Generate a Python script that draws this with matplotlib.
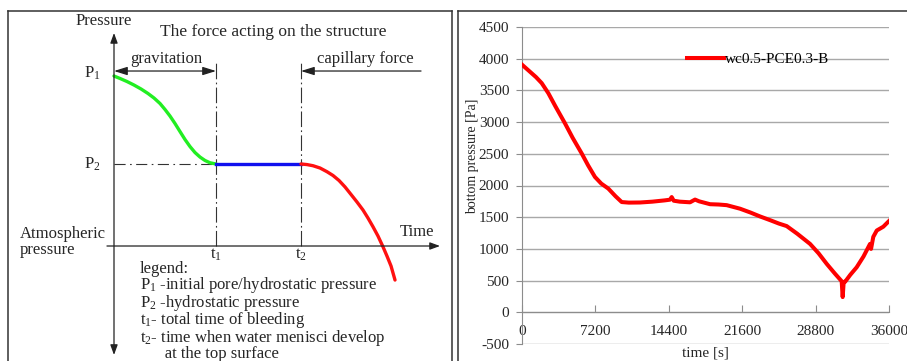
import matplotlib
matplotlib.use('Agg')
import matplotlib.pyplot as plt

plt.rcParams['font.family'] = ['Liberation Serif', 'DejaVu Serif']
plt.rcParams['mathtext.fontset'] = 'custom'
plt.rcParams['mathtext.rm'] = 'Liberation Serif'
plt.rcParams['mathtext.it'] = 'Liberation Serif:italic'
plt.rcParams['axes.unicode_minus'] = False

# ---- left: schematic (time in units of t1, pressure in units of P2) ----
t1 = 1.0
t2 = 1.833
P1 = 2.073
P2 = 1.0
grav_t = [0.0, 0.059, 0.127, 0.196, 0.265, 0.333, 0.392, 0.451, 0.500, 0.549,
          0.598, 0.647, 0.696, 0.745, 0.794, 0.843, 0.892, 0.941, 1.0]
grav_p = [2.073, 2.043, 2.006, 1.963, 1.915, 1.860, 1.805, 1.738, 1.665, 1.585,
          1.494, 1.396, 1.299, 1.213, 1.140, 1.085, 1.043, 1.015, 1.0]
hold_t = [t1, t2]
hold_p = [P2, P2]
cap_t = [1.833, 1.892, 1.951, 2.020, 2.088, 2.147, 2.206, 2.265, 2.324, 2.382,
         2.441, 2.490, 2.539, 2.588, 2.637, 2.676, 2.716, 2.755]
cap_p = [1.0, 0.993, 0.979, 0.951, 0.906, 0.860, 0.799, 0.720, 0.628, 0.537,
         0.439, 0.341, 0.235, 0.122, -0.009, -0.122, -0.244, -0.415]
legend_lines = ['legend:',
                'P$_1$ -initial pore/hydrostatic pressure',
                'P$_2$ -hydrostatic pressure',
                't$_1$- total time of bleeding',
                't$_2$- time when water menisci develop',
                '      at the top surface']

# ---- right: measured bottom pressure ----
time_s = [0, 700, 1400, 1960, 2610, 3300, 4240, 5000, 5880, 6500, 7180, 7800,
          8490, 9200, 9800, 10500, 11600, 12800, 14000, 14530, 14700, 14900,
          15500, 16500, 16990, 17400, 18460, 19300, 20090, 21400, 22400, 23360,
          24400, 25200, 25970, 27000, 28260, 29100, 29900, 30700, 31360, 31460,
          31560, 31690, 32200, 32830, 33500, 34140, 34240, 34460, 34800, 35440, 36000]
pressure_pa = [3910, 3810, 3710, 3615, 3456, 3250, 2981, 2750, 2506, 2320, 2135, 2030,
               1951, 1830, 1739, 1730, 1732, 1745, 1765, 1776, 1818, 1760,
               1745, 1735, 1778, 1750, 1705, 1700, 1690, 1634, 1575, 1512,
               1450, 1400, 1360, 1240, 1079, 930, 763, 610, 490, 240,
               480, 480, 590, 710, 880, 1079, 1000, 1190, 1290, 1350, 1440]
xticks = [0, 7200, 14400, 21600, 28800, 36000]
yticks = list(range(-500, 4501, 500))

txt = '#262626'
fs = 12
fig = plt.figure(figsize=(9.07, 3.61), dpi=100)

# left panel
axL = fig.add_axes([8/907, -5/361, 444/907, 355/361])
axL.set_xlim(-1.0392, 3.3137)
axL.set_ylim(-1.4634, 2.8659)
axL.set_xticks([]); axL.set_yticks([])
for s in axL.spines.values():
    s.set_color('#333333'); s.set_linewidth(1.1)

ap = dict(color='#222222', lw=0.9, shrinkA=0, shrinkB=0)
axL.annotate('', xy=(0, 2.598), xytext=(0, -1.329),
             arrowprops=dict(arrowstyle='<|-|>,head_length=0.6,head_width=0.22', **ap))
axL.annotate('', xy=(3.196, 0), xytext=(-0.069, 0),
             arrowprops=dict(arrowstyle='-|>,head_length=0.6,head_width=0.22', **ap))
axL.annotate('', xy=(t1, 2.134), xytext=(0, 2.134),
             arrowprops=dict(arrowstyle='<|-|>,head_length=0.8,head_width=0.25', **ap))
axL.annotate('', xy=(t2, 2.134), xytext=(3.01, 2.134),
             arrowprops=dict(arrowstyle='-|>,head_length=0.8,head_width=0.25', **ap))

dd = (0, (14, 3, 1.5, 3))
axL.plot([t1, t1], [0, 2.268], color='#333333', lw=0.8, ls=dd)
axL.plot([t2, t2], [0, 2.268], color='#333333', lw=0.8, ls=dd)
axL.plot([0, t1], [P2, P2], color='#333333', lw=0.8, ls=(0, (10, 4, 1.5, 4)))

axL.plot(grav_t, grav_p, color='#22ee22', lw=2.4, solid_capstyle='round',
         solid_joinstyle='round')
axL.plot(hold_t, hold_p, color='#1010ee', lw=2.4)
axL.plot(cap_t, cap_p, color='#ff1010', lw=2.4, solid_capstyle='round',
         solid_joinstyle='round')

axL.text(-0.098, 2.744, 'Pressure', ha='center', va='center', fontsize=fs, color=txt)
axL.text(1.564, 2.606, 'The force acting on the structure', ha='center', va='center',
         fontsize=12.5, color=txt)
axL.text(0.517, 2.277, 'gravitation', ha='center', va='center', fontsize=fs, color=txt)
axL.text(2.461, 2.277, 'capillary force', ha='center', va='center', fontsize=fs, color=txt)
axL.text(-0.216, P1 + 0.03, 'P$_1$', ha='center', va='center', fontsize=fs, color=txt)
axL.text(-0.216, P2, 'P$_2$', ha='center', va='center', fontsize=fs, color=txt)
axL.text(-0.922, 0.049, 'Atmospheric\npressure', ha='left', va='center', fontsize=fs,
         color=txt, linespacing=1.08)
axL.text(2.967, 0.175, 'Time', ha='center', va='center', fontsize=fs, color=txt)
axL.text(t1, -0.11, 't$_1$', ha='center', va='center', fontsize=fs, color=txt)
axL.text(t2, -0.11, 't$_2$', ha='center', va='center', fontsize=fs, color=txt)
axL.text(0.255, -0.80, '\n'.join(legend_lines), ha='left', va='center',
         fontsize=fs, color=txt, linespacing=0.83)

# right panel frame
axF = fig.add_axes([458/907, -5/361, 454/907, 355/361], zorder=-1)
axF.set_xticks([]); axF.set_yticks([])
for s in axF.spines.values():
    s.set_color('#333333'); s.set_linewidth(1.1)

# right chart
axR = fig.add_axes([521.7/907, 17/361, 367.3/907, 317/361])
axR.patch.set_alpha(0)
axR.plot(time_s, pressure_pa, color='#ff0000', lw=2.9, label='wc0.5-PCE0.3-B',
         solid_joinstyle='round', zorder=3)
axR.set_xlim(0, 36000)
axR.set_ylim(-500, 4500)
axR.set_xticks(xticks)
axR.set_yticks(yticks)
axR.grid(axis='y', color='#a8a8a8', lw=1)
axR.spines['top'].set_visible(False)
axR.spines['right'].set_visible(False)
axR.spines['left'].set_color('#8c8c8c')
axR.spines['bottom'].set_color('#8c8c8c')
axR.spines['bottom'].set_position(('data', 0))
axR.tick_params(axis='x', direction='in', length=5, color='#8c8c8c', pad=9,
                labelsize=11, labelcolor=txt)
axR.tick_params(axis='y', direction='out', length=4, color='#8c8c8c', pad=5,
                labelsize=11, labelcolor=txt)
axR.set_xlabel('time [s]', fontsize=11, color=txt)
axR.xaxis.set_label_coords(0.5, -0.028)
axR.xaxis.label.set_verticalalignment('center')
axR.set_ylabel('bottom pressure [Pa]', fontsize=10, color=txt)
axR.yaxis.set_label_coords(-0.1326, 0.591)
axR.yaxis.label.set_verticalalignment('center')
axR.legend(loc='center left', bbox_to_anchor=(0.45, 0.899), frameon=False,
           handlelength=2.4, handletextpad=0.1, borderaxespad=0, borderpad=0,
           fontsize=11)

fig.savefig('out.png', dpi=100)
